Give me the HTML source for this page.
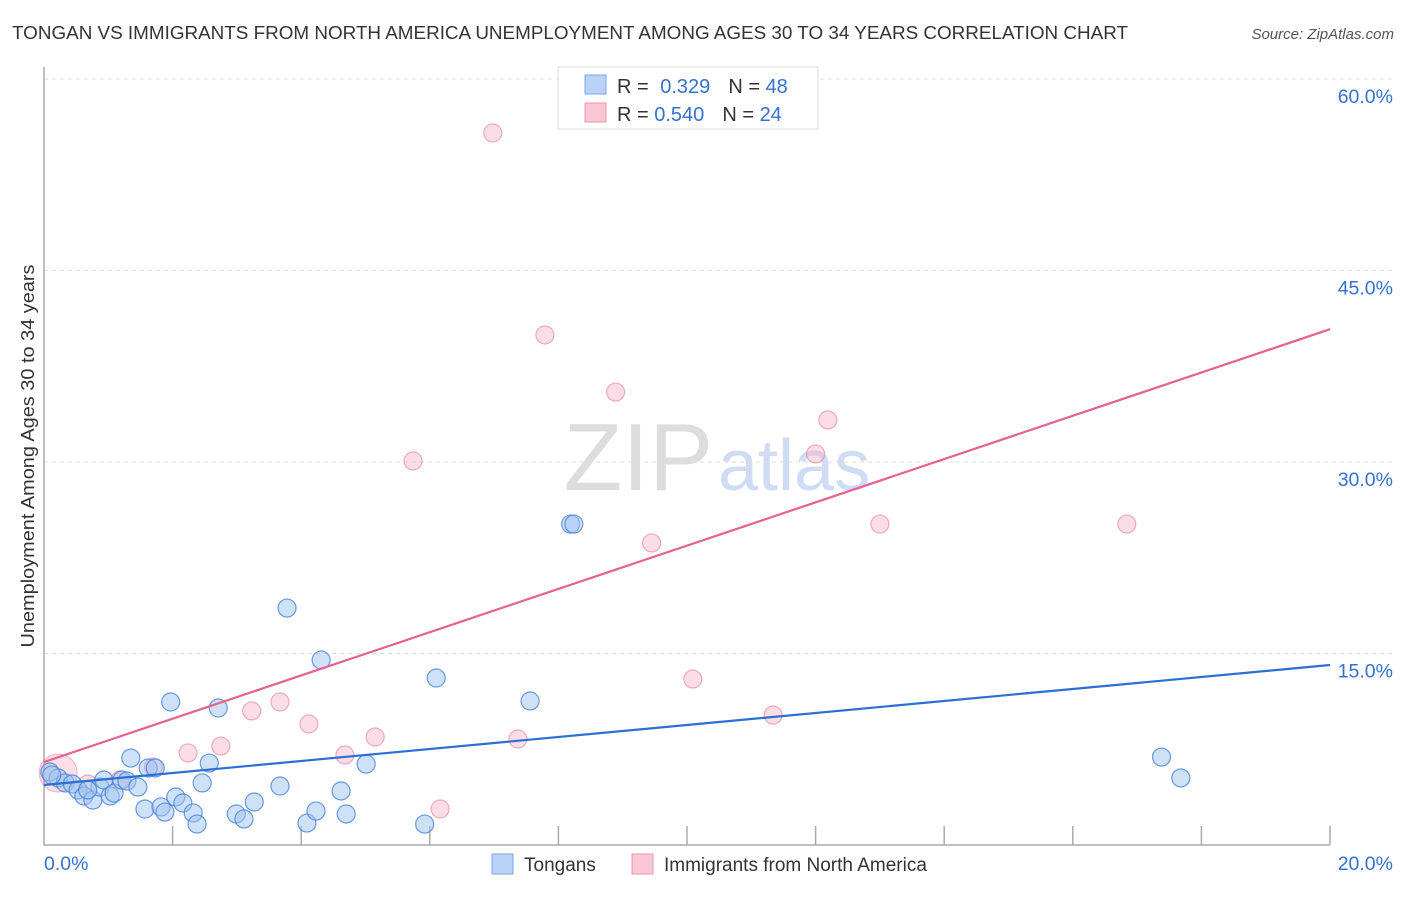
<!DOCTYPE html>
<html><head><meta charset="utf-8"><style>
body{margin:0;background:#fff;font-family:"Liberation Sans",sans-serif;}
svg text{font-family:"Liberation Sans",sans-serif;}
</style></head><body>
<svg id="chart" width="1406" height="892" xmlns="http://www.w3.org/2000/svg">
<text x="12" y="39" font-size="18" fill="#333" textLength="1116" lengthAdjust="spacingAndGlyphs">TONGAN VS IMMIGRANTS FROM NORTH AMERICA UNEMPLOYMENT AMONG AGES 30 TO 34 YEARS CORRELATION CHART</text>
<text x="1394" y="39" font-size="15" fill="#555" font-style="italic" text-anchor="end">Source: ZipAtlas.com</text>
<text transform="translate(34,456) rotate(-90)" font-size="18" fill="#333" text-anchor="middle" textLength="383" lengthAdjust="spacingAndGlyphs">Unemployment Among Ages 30 to 34 years</text>
<text x="713" y="490" font-size="96" text-anchor="end" fill="#ddd" font-family="Liberation Serif">ZIP</text>
<text x="718" y="490" font-size="72" fill="#cfdcf3">atlas</text>
<g id="grid"></g><g id="marks"></g>
<g>
<rect x="558" y="67" width="260" height="62" fill="#fff" stroke="#ddd"/>
<rect x="585" y="75" width="21" height="19" fill="#b9d2f6" stroke="#7aa5e8"/>
<rect x="585" y="103" width="21" height="19" fill="#f9c6d4" stroke="#ec95ad"/>
<text x="617" y="93" font-size="20" fill="#333">R = <tspan fill="#3471d0" dx="6">0.329</tspan><tspan fill="#333" dx="18">N = </tspan><tspan fill="#3471d0">48</tspan></text>
<text x="617" y="121" font-size="20" fill="#333">R = <tspan fill="#3471d0">0.540</tspan><tspan fill="#333" dx="18">N = </tspan><tspan fill="#3471d0">24</tspan></text>
</g>
<g>
<rect x="492" y="854" width="21" height="20" fill="#b9d2f6" stroke="#7aa5e8"/>
<text x="524" y="871" font-size="19" fill="#333">Tongans</text>
<rect x="632" y="854" width="21" height="20" fill="#f9c6d4" stroke="#ec95ad"/>
<text x="664" y="871" font-size="19" fill="#333">Immigrants from North America</text>
</g>
</svg>
<script>
const yTicks=[15,30,45,60];
const yTickLabels=["15.0%","30.0%","45.0%","60.0%"];
const xTickVals=[2,4,6,8,10,12,14,16,18,20];
const blueX=[0.09,0.22,0.33,0.44,0.53,0.62,0.76,0.87,0.93,1.03,1.09,1.21,1.29,1.35,1.46,1.57,1.62,1.73,1.82,1.88,1.97,2.05,2.16,2.32,2.38,2.46,2.57,2.71,2.99,3.11,3.27,3.67,3.78,4.09,4.23,4.31,4.62,4.70,5.01,5.92,6.10,7.56,8.19,8.24,17.38,17.68,0.12,0.68];
const blueY=[5.72,5.25,4.86,4.78,4.31,3.84,3.52,4.54,5.09,3.84,4.07,5.09,5.01,6.81,4.54,2.82,6.03,6.03,2.98,2.58,11.2,3.76,3.29,2.51,1.64,4.86,6.42,10.73,2.43,2.04,3.37,4.62,18.56,1.72,2.66,14.49,4.23,2.43,6.34,1.64,13.08,11.28,25.14,25.14,6.89,5.25,5.48,4.31];
const pinkX=[0.22,0.68,1.18,1.70,2.24,2.75,3.23,3.67,4.12,4.68,5.15,5.74,6.16,6.98,7.37,7.79,8.89,9.45,10.09,11.34,12.0,12.19,13.0,16.84];
const pinkY=[5.64,4.78,5.09,6.11,7.21,7.75,10.5,11.2,9.48,7.05,8.46,30.08,2.82,55.77,8.3,39.95,35.48,23.66,13.0,10.18,30.63,33.29,25.14,25.14];
const blueTrend=[4.7,14.1];
const pinkTrend=[6.5,40.4];
const NS="http://www.w3.org/2000/svg";
const X=v=>44+v/20*1286, Y=v=>845-v/60*766;
function mk(t,a,p){const e=document.createElementNS(NS,t);for(const k in a)e.setAttribute(k,a[k]);p.appendChild(e);return e;}
const g=document.getElementById('grid'), m=document.getElementById('marks');
yTicks.forEach((t,i)=>{
 const l=mk('line',{x1:44,x2:1394,y1:Y(t),y2:Y(t),stroke:'#ddd','stroke-dasharray':'4,4'},g);
 
 
 const tx=mk('text',{x:1393,y:Y(t)+24,'font-size':19.5,fill:'#3471d0','text-anchor':'end'},g);
 tx.textContent=yTickLabels[i];
 
 
});
const ax=mk('path',{d:'M44,67 V845 H1330',stroke:'#aaa',fill:'none','stroke-width':1.5},g);


xTickVals.forEach(v=>{
 const l=mk('line',{x1:X(v),x2:X(v),y1:826,y2:845,stroke:'#aaa','stroke-width':1.5},g);
 
 
});
const x0=mk('text',{x:44,y:870,'font-size':19.5,fill:'#3471d0'},g);x0.textContent='0.0%';


const x1=mk('text',{x:1393,y:870,'font-size':19.5,fill:'#3471d0','text-anchor':'end'},g);x1.textContent='20.0%';


const big=mk('circle',{cx:X(pinkX[0]),cy:Y(pinkY[0]),r:19,fill:'rgba(244,160,185,0.35)',stroke:'rgba(230,120,150,0.5)'},m);


pinkX.forEach((v,i)=>{if(i===0)return;
 const c=mk('circle',{cx:X(v),cy:Y(pinkY[i]),r:9,fill:'rgba(246,180,200,0.45)',stroke:'rgba(232,130,160,0.65)','stroke-width':1.2},m);
 
 
});
blueX.forEach((v,i)=>{
 const c=mk('circle',{cx:X(v),cy:Y(blueY[i]),r:9,fill:'rgba(160,195,240,0.5)',stroke:'rgba(70,130,220,0.8)','stroke-width':1.2},m);
 
 
});
const pl=mk('line',{x1:X(0),y1:Y(pinkTrend[0]),x2:X(20),y2:Y(pinkTrend[1]),stroke:'#e8608f','stroke-width':2.2},m);


const bl=mk('line',{x1:X(0),y1:Y(blueTrend[0]),x2:X(20),y2:Y(blueTrend[1]),stroke:'#2a6fd6','stroke-width':2.2},m);


</script>
</body></html>
